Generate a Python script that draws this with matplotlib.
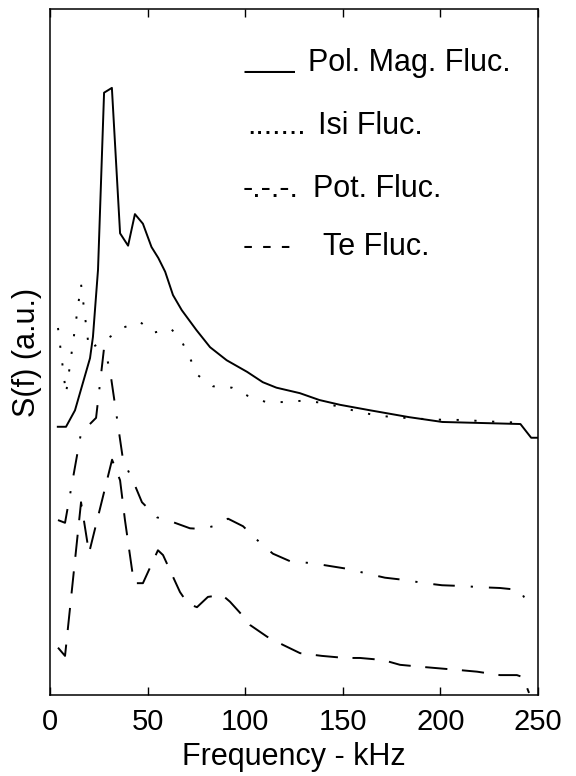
import matplotlib
matplotlib.use("Agg")
import matplotlib.pyplot as plt

plt.rcParams['font.family'] = ['Liberation Sans', 'DejaVu Sans']
plt.rcParams['lines.scale_dashes'] = False

# Pol. Mag. Fluc. (solid)
pol_f = [4, 8.2, 12.8, 20.5, 22, 24.6, 27.7, 31.7, 35.9, 40, 43.5, 47.6, 52, 55.5,
         59, 63, 67.5, 75, 82, 90.5, 101, 109, 116, 128, 138, 148.6, 164, 184,
         201, 241, 246.5, 250]
pol_s = [3.91, 3.91, 4.15, 4.91, 5.22, 6.20, 8.78, 8.85, 6.73, 6.55, 7.01, 6.87,
         6.53, 6.37, 6.17, 5.83, 5.61, 5.32, 5.07, 4.88, 4.71, 4.56, 4.48, 4.40,
         4.30, 4.23, 4.15, 4.05, 3.98, 3.95, 3.75, 3.75]

# Isi Fluc. (dotted)
isi_f = [4.1, 8.2, 15.9, 20, 30.7, 37.9, 46.1, 52.8, 62, 67.6, 71.7, 75.8, 83.5,
         93.2, 101.4, 110.7, 119.9, 129.6, 139.3, 148.6, 157.8, 166.5, 175.7,
         193.6, 203.4, 212.6, 221.8, 231.6, 240.8]
isi_s = [5.35, 4.39, 5.99, 5.04, 5.22, 5.36, 5.44, 5.28, 5.34, 5.15, 4.91, 4.66,
         4.50, 4.48, 4.36, 4.27, 4.27, 4.29, 4.26, 4.20, 4.13, 4.08, 4.05, 4.02,
         4.01, 4.01, 3.99, 3.98, 3.97]

# Pot. Fluc. (dash-dot)
pot_f = [4.1, 7.7, 15.9, 23.6, 27.7, 30.7, 37.4, 43, 47.1, 54.8, 63, 71.7, 77.9,
         83.5, 91.2, 98.9, 107.6, 114.2, 123, 134.7, 143.4, 152.2, 163.9, 171.6,
         180.8, 192.1, 200.8, 210, 221.8, 230.5, 240.8, 245.9]
pot_s = [2.55, 2.51, 3.82, 4.04, 5.06, 4.74, 3.43, 3.09, 2.81, 2.59, 2.52, 2.43,
         2.42, 2.46, 2.57, 2.46, 2.22, 2.06, 1.95, 1.92, 1.88, 1.84, 1.76, 1.71,
         1.68, 1.63, 1.60, 1.59, 1.57, 1.56, 1.53, 1.27]

# Te Fluc. (dashed)
te_f = [4.1, 7.7, 15.9, 20, 31.8, 35.9, 38.4, 43, 47.6, 55.3, 57.9, 66.6, 70.7,
        75.3, 80.9, 88.1, 92.2, 97.3, 102.5, 111.2, 119.4, 128.1, 139.3, 151.1,
        158.8, 170.6, 179.3, 190.6, 198.8, 211.1, 218.8, 230.5, 239.2, 242.3, 245.4]
te_s = [0.69, 0.57, 2.81, 2.07, 3.43, 3.13, 2.55, 1.63, 1.63, 2.11, 2.04, 1.50,
        1.33, 1.28, 1.43, 1.46, 1.36, 1.20, 1.02, 0.85, 0.73, 0.61, 0.57, 0.54,
        0.54, 0.51, 0.44, 0.41, 0.39, 0.36, 0.34, 0.29, 0.29, 0.26, 0.03]

x_ticks = [0, 50, 100, 150, 200, 250]

W, H = 576, 776
fig = plt.figure(figsize=(W / 100, H / 100), dpi=100)
ax = fig.add_axes([50 / W, 1 - 695 / H, (538 - 50) / W, (695 - 9) / H])

lw = 1.4
ax.plot(pol_f, pol_s, color='black', lw=lw, linestyle='-')
ax.plot(isi_f, isi_s, color='black', lw=lw, linestyle=(0, (1.6, 11.2)))
ax.plot(pot_f, pot_s, color='black', lw=lw, linestyle=(0, (15.5, 11.5, 1.6, 11.5)))
ax.plot(te_f, te_s, color='black', lw=lw, linestyle=(0, (16, 10.5)))

ax.set_xlim(0, 250)
ax.set_ylim(0, 10)
ax.set_xticks(x_ticks)
ax.set_xticklabels([str(t) for t in x_ticks])
ax.set_yticks([])
ax.tick_params(axis='x', direction='in', length=5.5, width=1.0, top=True,
               labelsize=21, pad=9)
for sp in ax.spines.values():
    sp.set_linewidth(1.1)

ax.set_xlabel('Frequency - kHz', fontsize=22, labelpad=5)
ax.set_ylabel('S(f) (a.u.)', fontsize=22)
ax.yaxis.set_label_coords((42 - 50) / 488, 0.5)

def ftxt(x, y, s):
    fig.text(x / W, 1 - y / H, s, fontsize=22, va='baseline', ha='left')

ftxt(245, 67, '___')
ftxt(308, 71, 'Pol. Mag. Fluc.')
ftxt(247, 134, '.......')
ftxt(318, 134, 'Isi Fluc.')
ftxt(243, 197, '-.-.-.')
ftxt(313, 197, 'Pot. Fluc.')
ftxt(243, 255, '- - -')
ftxt(323, 255, 'Te Fluc.')

fig.savefig('out.png', dpi=100)
